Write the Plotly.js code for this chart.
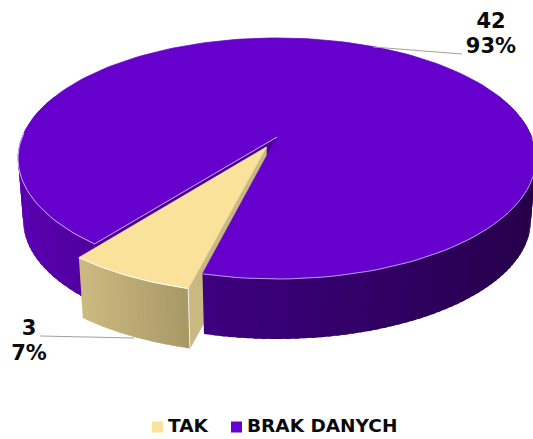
<!DOCTYPE html>
<html><head><meta charset="utf-8">
<script src="https://cdn.plot.ly/plotly-3.0.1.min.js"></script>
<style>html,body{margin:0;padding:0;background:#fff}#c{width:533px;height:439px}</style>
</head><body><div id="c"></div>
<script>
const categories = ["TAK", "BRAK DANYCH"];
const values = [3, 42];
const colors = ["#FAE29B", "#6600CC"];

// view of the tilted disc
const CX = 277, CY = 137, A = 254.8, B = 116.7, K = 0.178;
const DROP = 0.02, VY = 3280;
const FIRST_ANGLE = 14, EXPLODE = 0.094;
const PURPLE_SIDE = [[18,"#5A00B2"],[95,"#4E009C"],[205,"#3D007E"],[350,"#320068"],[535,"#26004A"]];
const TAN_SIDE = [[79,"#CDB981"],[188,"#A69764"]];

const total = values.reduce((a,b)=>a+b,0);
const sweep = 360*values[0]/total;
const rad = d=>d*Math.PI/180;
function proj(u,v){const w=1-K*v;return [CX+A*u/w, CY+B*v/w];}
function rim(phi,ou=0,ov=0){return proj(-Math.sin(rad(phi))+ou, Math.cos(rad(phi))+ov);}
function drop(p){return [p[0]+DROP*(CX-p[0]), p[1]+DROP*(VY-p[1])];}
function hex(c){return [1,3,5].map(i=>parseInt(c.substr(i,2),16));}
function ramp(stops,x){
  if(x<=stops[0][0])return stops[0][1];
  for(let i=1;i<stops.length;i++){
    if(x<=stops[i][0]){
      const t=(x-stops[i-1][0])/(stops[i][0]-stops[i-1][0]);
      const a=hex(stops[i-1][1]),b=hex(stops[i][1]);
      return "rgb("+a.map((v,j)=>Math.round(v+(b[j]-v)*t)).join(",")+")";
    }
  }
  return stops[stops.length-1][1];
}
const traces=[];
function poly(pts,color,w=0.7){
  const p=pts.concat([pts[0]]);
  traces.push({type:"scatter",mode:w?"lines":"none",x:p.map(q=>q[0]),y:p.map(q=>q[1]),fill:"toself",fillcolor:color,
    line:{color:color,width:w},hoverinfo:"skip",showlegend:false});
}
function line(pts,color,width){
  traces.push({type:"scatter",mode:"lines",x:pts.map(q=>q[0]),y:pts.map(q=>q[1]),
    line:{color:color,width:width},hoverinfo:"skip",showlegend:false});
}
// bands are painted far end first, each one lying over the start of the previous one
function side(from,to,n,stops,ou=0,ov=0){
  const step=(to-from)/n;
  for(let i=n-1;i>=0;i--){
    const a=rim(from+step*i,ou,ov), b=rim(from+step*Math.min(n,i+1.6),ou,ov), c=rim(from+step*(i+0.5),ou,ov);
    poly([a,b,drop(b),drop(a)],ramp(stops,c[0]),0);
  }
}
function arc(from,to,n,ou=0,ov=0){
  const r=[];for(let i=0;i<=n;i++)r.push(rim(from+(to-from)*i/n,ou,ov));return r;
}
const a0=FIRST_ANGLE, a1=FIRST_ANGLE+sweep;
const mid=rad((a0+a1)/2), ou=-Math.sin(mid)*EXPLODE, ov=Math.cos(mid)*EXPLODE;

// far left wall of the main slice, left outer side
side(a1,112,36,PURPLE_SIDE);
const apex=proj(0,0), holeL=rim(a1);
poly([apex,holeL,drop(holeL),drop(apex)],"#48008E");
// radial wall of the pulled-out slice
const tApex=proj(ou,ov), tR=rim(a0,ou,ov), tL=rim(a1,ou,ov);
poly([tApex,tR,drop(tR),drop(tApex)],"#C9B880");
// right outer side, main slice top
side(a0,-112,80,PURPLE_SIDE);
poly([apex].concat(arc(a0,a1-360,180)),colors[1]);
line(arc(a0,-90,50),"#B79AE0",1);
line(arc(a1,92,30),"#C9AEEF",1);
line([apex,holeL],"#C9AEEF",1);
// pulled-out slice
side(a1,a0,24,TAN_SIDE,ou,ov);
poly([tApex].concat(arc(a0,a1,16,ou,ov)),colors[0]);
line(arc(a0,a1,16,ou,ov),"#FFFFFF",1);
line([tR,drop(tR)],"#F2F2F2",1);
line([tR,tApex],"#E8DDB0",0.7);

// leader lines
const leaders=[[[373,47],[462,54]],[[40,336],[134,338]]];
leaders.forEach(l=>line(l,"#A0A0A0",1.2));

// data labels
const font={family:"DejaVu Sans",size:21,color:"#0A0A0A",weight:700};
const pct=values.map(v=>Math.round(100*v/total)+"%");
traces.push({type:"scatter",mode:"text",x:[29,29,491,491],y:[330,355,23,48],
  text:[String(values[0]),pct[0],String(values[1]),pct[1]],textposition:"middle center",
  textfont:font,hoverinfo:"skip",showlegend:false});

// legend
const legX=[152,231], legY=427;
categories.forEach((c,i)=>{
  traces.push({type:"scatter",mode:"markers",x:[legX[i]+5.5],y:[legY],
    marker:{symbol:"square",size:11,color:colors[i]},hoverinfo:"skip",showlegend:false,name:c});
  traces.push({type:"scatter",mode:"text",x:[legX[i]+16],y:[legY],text:[c],textposition:"middle right",
    textfont:{family:"DejaVu Sans",size:18.5,color:"#0A0A0A",weight:700},hoverinfo:"skip",showlegend:false,name:c});
});

Plotly.newPlot("c",traces,{
  width:533,height:439,margin:{l:0,r:0,t:0,b:0},paper_bgcolor:"#fff",plot_bgcolor:"#fff",showlegend:false,
  xaxis:{range:[0,533],visible:false,fixedrange:true},
  yaxis:{range:[439,0],visible:false,fixedrange:true}
},{displayModeBar:false,staticPlot:true});
</script></body></html>
